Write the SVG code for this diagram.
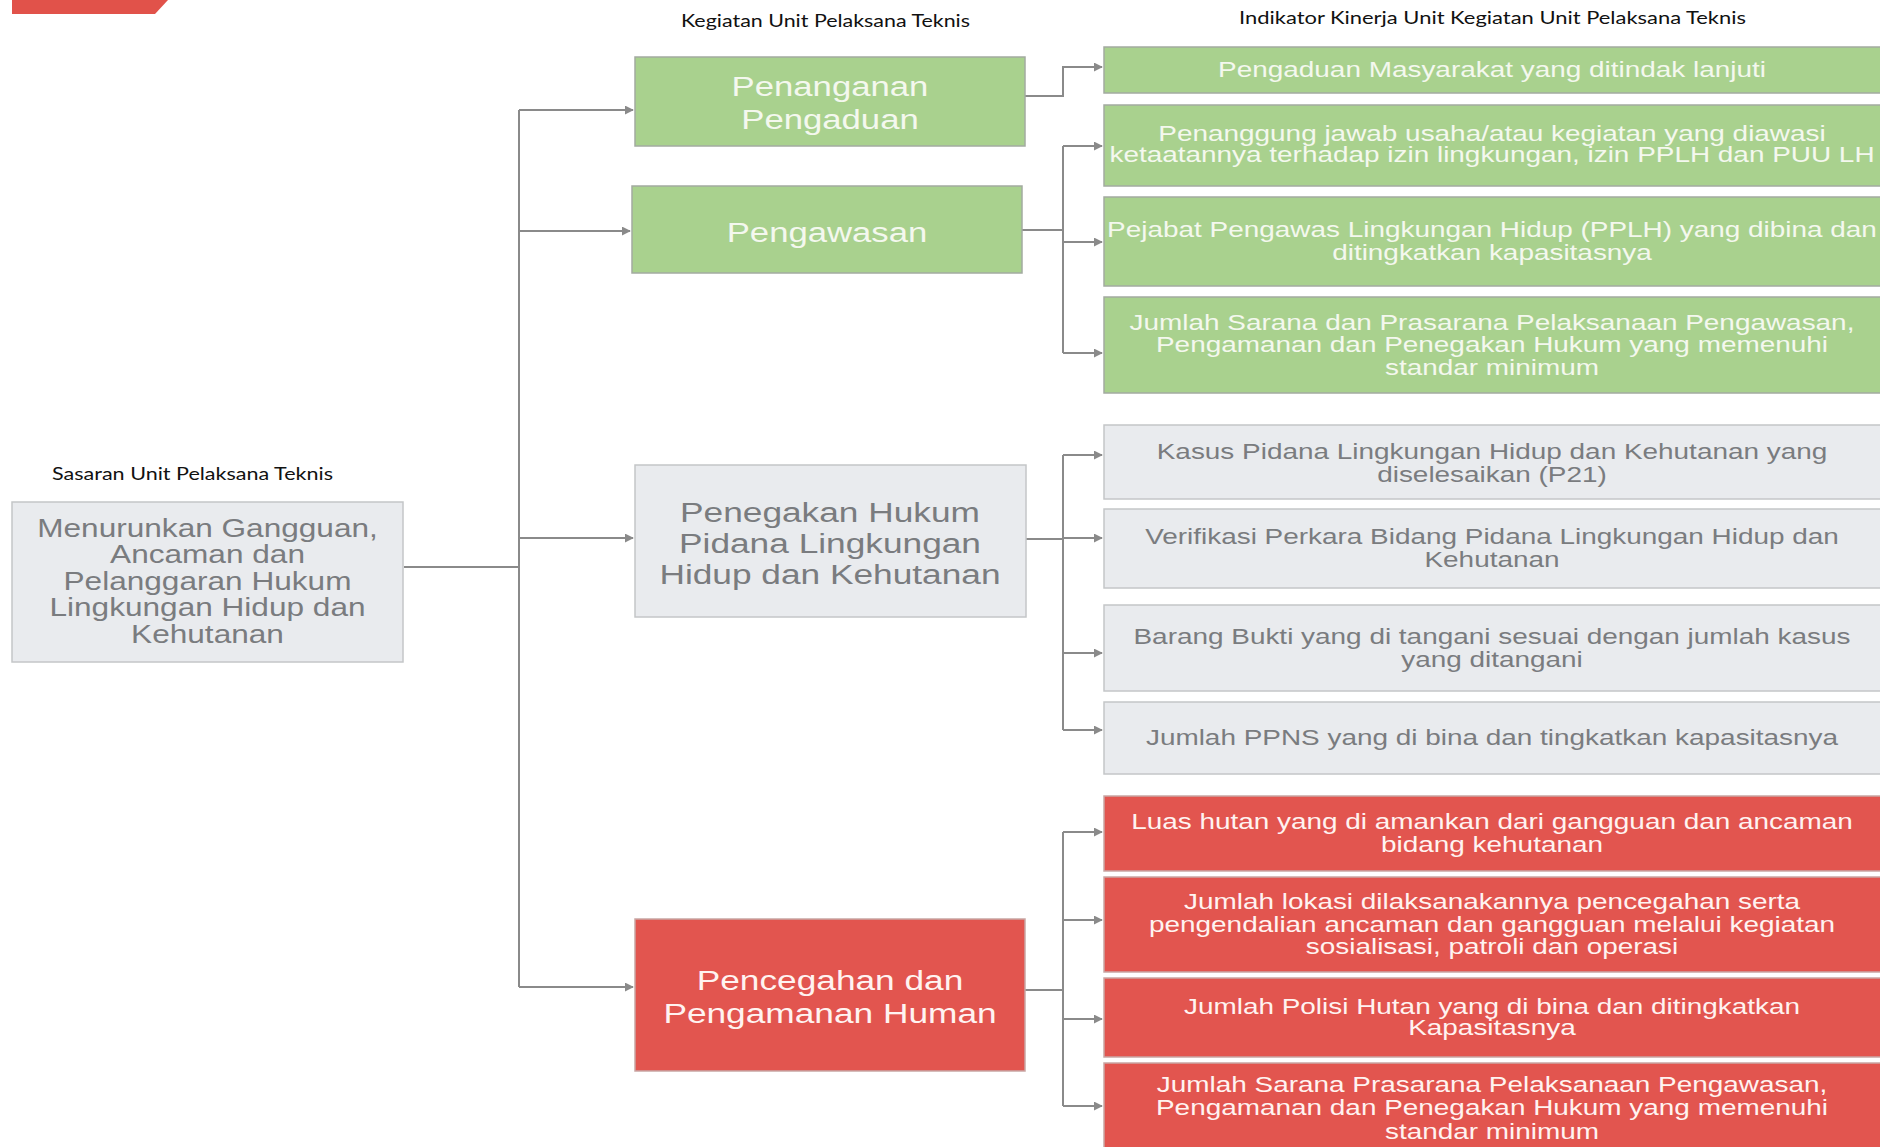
<svg xmlns="http://www.w3.org/2000/svg" width="1880" height="1147" viewBox="0 0 1880 1147">
<defs>
<style>
.hdr{font-family:"Lato","Liberation Sans",sans-serif;font-size:17px;fill:#111}
.g{fill:#a9d18e;stroke:#a3aba0;stroke-width:1.5}
.s{fill:#e9ebee;stroke:#c4c6c8;stroke-width:1.5}
.r{fill:#e2554f;stroke:#c9a6a4;stroke-width:1.5}
.tw{font-family:"Liberation Sans",Arial,sans-serif;fill:#f4f8ee;text-anchor:middle}
.tg{font-family:"Liberation Sans",Arial,sans-serif;fill:#7a7c7f;text-anchor:middle}
.tr{font-family:"Liberation Sans",Arial,sans-serif;fill:#fff3f1;text-anchor:middle}
.ind{font-size:22px}
.keg{font-size:28px}
.sas{font-size:26px}
.con{fill:none;stroke:#8a8a8a;stroke-width:2}
</style>
<marker id="ah" viewBox="0 0 10 10" refX="9" refY="5" markerWidth="4.5" markerHeight="4.5" orient="auto" markerUnits="strokeWidth">
<path d="M0,0 L10,5 L0,10 z" fill="#8a8a8a"/>
</marker>
</defs>
<rect width="1880" height="1147" fill="#ffffff"/>
<polygon points="12,0 168,0 155,14 12,14" fill="#e1524a"/>

<text class="hdr" x="681" y="27" textLength="289" lengthAdjust="spacingAndGlyphs">Kegiatan Unit Pelaksana Teknis</text>
<text class="hdr" x="1239" y="24" textLength="507" lengthAdjust="spacingAndGlyphs">Indikator Kinerja Unit Kegiatan Unit Pelaksana Teknis</text>
<text class="hdr" x="52" y="480" textLength="281" lengthAdjust="spacingAndGlyphs">Sasaran Unit Pelaksana Teknis</text>

<g id="connectors">
<path class="con" d="M404,567 H519"/>
<path class="con" d="M519,110 V987"/>
<path class="con" d="M519,110 H633" marker-end="url(#ah)"/>
<path class="con" d="M519,231 H630" marker-end="url(#ah)"/>
<path class="con" d="M519,538 H633" marker-end="url(#ah)"/>
<path class="con" d="M519,987 H633" marker-end="url(#ah)"/>
<path class="con" d="M1025,96 H1063 V67 H1102" marker-end="url(#ah)"/>
<path class="con" d="M1022,230 H1063"/>
<path class="con" d="M1063,146 V353"/>
<path class="con" d="M1063,146 H1102" marker-end="url(#ah)"/>
<path class="con" d="M1063,242 H1102" marker-end="url(#ah)"/>
<path class="con" d="M1063,353 H1102" marker-end="url(#ah)"/>
<path class="con" d="M1026,539 H1063"/>
<path class="con" d="M1063,455 V730"/>
<path class="con" d="M1063,455 H1102" marker-end="url(#ah)"/>
<path class="con" d="M1063,538 H1102" marker-end="url(#ah)"/>
<path class="con" d="M1063,653 H1102" marker-end="url(#ah)"/>
<path class="con" d="M1063,730 H1102" marker-end="url(#ah)"/>
<path class="con" d="M1025,990 H1063"/>
<path class="con" d="M1063,832 V1106"/>
<path class="con" d="M1063,832 H1102" marker-end="url(#ah)"/>
<path class="con" d="M1063,920 H1102" marker-end="url(#ah)"/>
<path class="con" d="M1063,1019 H1102" marker-end="url(#ah)"/>
<path class="con" d="M1063,1106 H1102" marker-end="url(#ah)"/>
</g>

<g id="sasaran">
<rect class="s" x="12" y="502" width="391" height="160"/>
<g transform="translate(207.5,0) scale(1.215,1)">
<text class="tg sas" x="0" y="537">Menurunkan Gangguan,</text>
<text class="tg sas" x="0" y="563.5">Ancaman dan</text>
<text class="tg sas" x="0" y="590">Pelanggaran Hukum</text>
<text class="tg sas" x="0" y="616.5">Lingkungan Hidup dan</text>
<text class="tg sas" x="0" y="643">Kehutanan</text>
</g>
</g>

<g id="keg-penanganan">
<rect class="g" x="635" y="57" width="390" height="89"/>
<g transform="translate(830,0) scale(1.24,1)">
<text class="tw keg" x="0" y="96">Penanganan</text>
<text class="tw keg" x="0" y="129">Pengaduan</text>
</g>
</g>
<g id="keg-pengawasan">
<rect class="g" x="632" y="186" width="390" height="87"/>
<g transform="translate(827,0) scale(1.24,1)">
<text class="tw keg" x="0" y="242">Pengawasan</text>
</g>
</g>
<g id="keg-penegakan">
<rect class="s" x="635" y="465" width="391" height="152"/>
<g transform="translate(830,0) scale(1.26,1)">
<text class="tg keg" x="0" y="522">Penegakan Hukum</text>
<text class="tg keg" x="0" y="553">Pidana Lingkungan</text>
<text class="tg keg" x="0" y="584">Hidup dan Kehutanan</text>
</g>
</g>
<g id="keg-pencegahan">
<rect class="r" x="635" y="919" width="390" height="152"/>
<g transform="translate(830,0) scale(1.26,1)">
<text class="tr keg" x="0" y="990">Pencegahan dan</text>
<text class="tr keg" x="0" y="1023">Pengamanan Human</text>
</g>
</g>

<g id="ind-g1">
<rect class="g" x="1104" y="47" width="777" height="46"/>
<g transform="translate(1492,0) scale(1.27,1)"><text class="tw ind" x="0" y="77">Pengaduan Masyarakat yang ditindak lanjuti</text></g>
</g>
<g id="ind-g2">
<rect class="g" x="1104" y="105" width="777" height="81"/>
<g transform="translate(1492,0) scale(1.27,1)">
<text class="tw ind" x="0" y="141">Penanggung jawab usaha/atau kegiatan yang diawasi</text>
<text class="tw ind" x="0" y="162">ketaatannya terhadap izin lingkungan, izin PPLH dan PUU LH</text>
</g>
</g>
<g id="ind-g3">
<rect class="g" x="1104" y="197" width="777" height="89"/>
<g transform="translate(1492,0) scale(1.27,1)">
<text class="tw ind" x="0" y="237">Pejabat Pengawas Lingkungan Hidup (PPLH) yang dibina dan</text>
<text class="tw ind" x="0" y="260">ditingkatkan kapasitasnya</text>
</g>
</g>
<g id="ind-g4">
<rect class="g" x="1104" y="297" width="777" height="96"/>
<g transform="translate(1492,0) scale(1.27,1)">
<text class="tw ind" x="0" y="330">Jumlah Sarana dan Prasarana Pelaksanaan Pengawasan,</text>
<text class="tw ind" x="0" y="352">Pengamanan dan Penegakan Hukum yang memenuhi</text>
<text class="tw ind" x="0" y="375">standar minimum</text>
</g>
</g>

<g id="ind-s1">
<rect class="s" x="1104" y="425" width="777" height="74"/>
<g transform="translate(1492,0) scale(1.27,1)">
<text class="tg ind" x="0" y="459">Kasus Pidana Lingkungan Hidup dan Kehutanan yang</text>
<text class="tg ind" x="0" y="482">diselesaikan (P21)</text>
</g>
</g>
<g id="ind-s2">
<rect class="s" x="1104" y="509" width="777" height="79"/>
<g transform="translate(1492,0) scale(1.27,1)">
<text class="tg ind" x="0" y="544">Verifikasi Perkara Bidang Pidana Lingkungan Hidup dan</text>
<text class="tg ind" x="0" y="567">Kehutanan</text>
</g>
</g>
<g id="ind-s3">
<rect class="s" x="1104" y="605" width="777" height="86"/>
<g transform="translate(1492,0) scale(1.27,1)">
<text class="tg ind" x="0" y="644">Barang Bukti yang di tangani sesuai dengan jumlah kasus</text>
<text class="tg ind" x="0" y="667">yang ditangani</text>
</g>
</g>
<g id="ind-s4">
<rect class="s" x="1104" y="702" width="777" height="72"/>
<g transform="translate(1492,0) scale(1.27,1)">
<text class="tg ind" x="0" y="745">Jumlah PPNS yang di bina dan tingkatkan kapasitasnya</text>
</g>
</g>

<g id="ind-r1">
<rect class="r" x="1104" y="796" width="777" height="75"/>
<g transform="translate(1492,0) scale(1.27,1)">
<text class="tr ind" x="0" y="829">Luas hutan yang di amankan dari gangguan dan ancaman</text>
<text class="tr ind" x="0" y="852">bidang kehutanan</text>
</g>
</g>
<g id="ind-r2">
<rect class="r" x="1104" y="877" width="777" height="95"/>
<g transform="translate(1492,0) scale(1.27,1)">
<text class="tr ind" x="0" y="909">Jumlah lokasi dilaksanakannya pencegahan serta</text>
<text class="tr ind" x="0" y="932">pengendalian ancaman dan gangguan melalui kegiatan</text>
<text class="tr ind" x="0" y="954">sosialisasi, patroli dan operasi</text>
</g>
</g>
<g id="ind-r3">
<rect class="r" x="1104" y="978" width="777" height="79"/>
<g transform="translate(1492,0) scale(1.27,1)">
<text class="tr ind" x="0" y="1014">Jumlah Polisi Hutan yang di bina dan ditingkatkan</text>
<text class="tr ind" x="0" y="1035">Kapasitasnya</text>
</g>
</g>
<g id="ind-r4">
<rect class="r" x="1104" y="1063" width="777" height="90"/>
<g transform="translate(1492,0) scale(1.27,1)">
<text class="tr ind" x="0" y="1092">Jumlah Sarana Prasarana Pelaksanaan Pengawasan,</text>
<text class="tr ind" x="0" y="1115">Pengamanan dan Penegakan Hukum yang memenuhi</text>
<text class="tr ind" x="0" y="1139">standar minimum</text>
</g>
</g>
</svg>
